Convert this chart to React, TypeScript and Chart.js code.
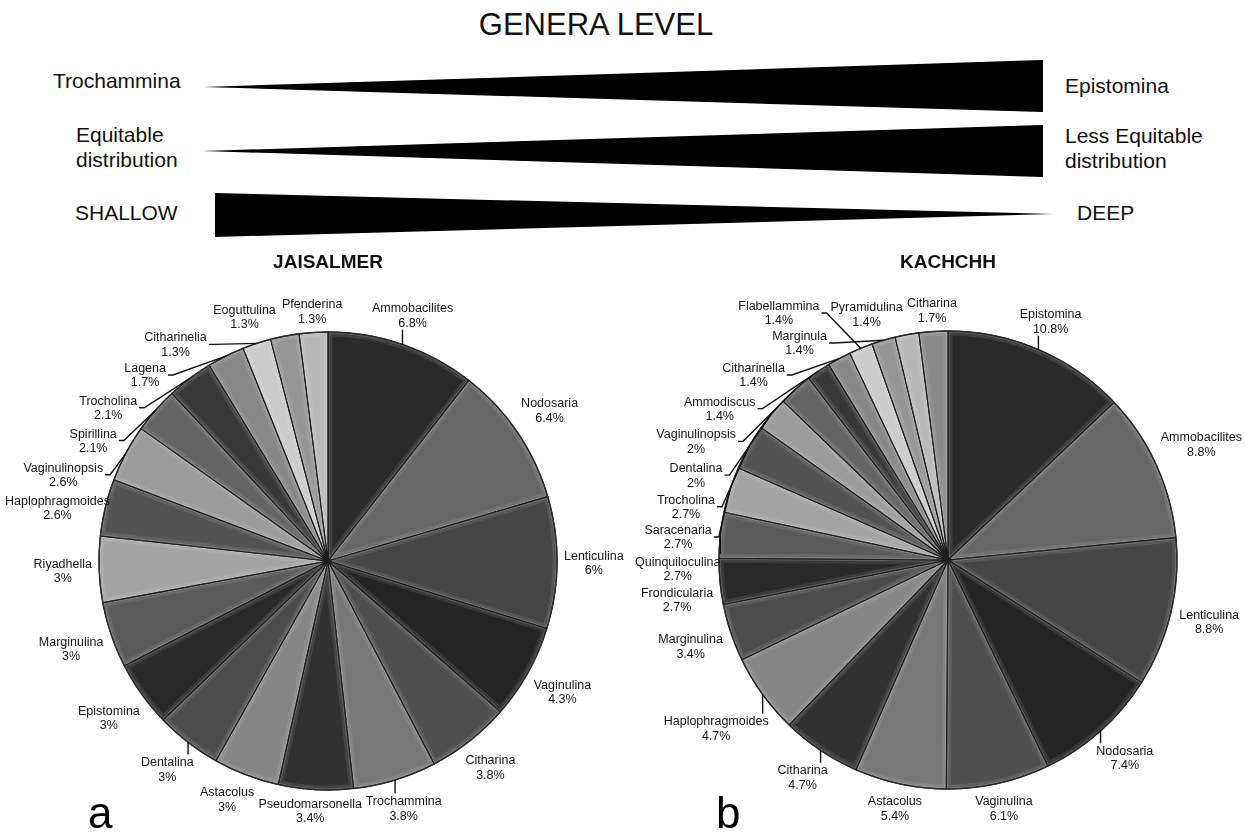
import React, { useEffect, useRef } from "react";
import { Chart, registerables } from "chart.js";

Chart.register(...registerables);

// ---------- data ----------
const JAISALMER_GENERA = [
  "Ammobacilites", "Nodosaria", "Lenticulina", "Vaginulina", "Citharina",
  "Trochammina", "Pseudomarsonella", "Astacolus", "Dentalina", "Epistomina",
  "Marginulina", "Riyadhella", "Haplophragmoides", "Vaginulinopsis", "Spirillina",
  "Trocholina", "Lagena", "Citharinelia", "Eoguttulina", "Pfenderina",
];
const JAISALMER_PERCENT = [
  6.8, 6.4, 6, 4.3, 3.8,
  3.8, 3.4, 3, 3, 3,
  3, 3, 2.6, 2.6, 2.1,
  2.1, 1.7, 1.3, 1.3, 1.3,
];

const KACHCHH_GENERA = [
  "Epistomina", "Ammobacilites", "Lenticulina", "Nodosaria", "Vaginulina",
  "Astacolus", "Citharina", "Haplophragmoides", "Marginulina", "Frondicularia",
  "Quinquiloculina", "Saracenaria", "Trocholina", "Dentalina", "Vaginulinopsis",
  "Ammodiscus", "Citharinella", "Flabellammina", "Marginula", "Pyramidulina",
  "Citharina",
];
const KACHCHH_PERCENT = [
  10.8, 8.8, 8.8, 7.4, 6.1,
  5.4, 4.7, 4.7, 3.4, 2.7,
  2.7, 2.7, 2.7, 2, 2,
  1.4, 1.4, 1.4, 1.4, 1.4,
  1.7,
];

const SLICE_GRAYS = [
  "#2a2a2a", "#666666", "#454545", "#242424", "#4f4f4f",
  "#787878", "#313131", "#868686", "#4c4c4c", "#292929",
  "#5a5a5a", "#a4a4a4", "#525252", "#9c9c9c", "#636363",
  "#383838", "#888888", "#cbcbcb", "#969696", "#b8b8b8",
  "#8a8a8a",
];

const HEADER_TITLE = "GENERA LEVEL";
const GRADIENT_ROWS = [
  { left: ["Trochammina"], right: ["Epistomina"], widening: true },
  { left: ["Equitable", "distribution"], right: ["Less Equitable", "distribution"], widening: true },
  { left: ["SHALLOW"], right: ["DEEP"], widening: false },
];

const W = 1245;
const H = 834;
const LABEL_FONT = '12.5px "Liberation Sans", Arial, Helvetica, sans-serif';
const LINE_H = 14.5;
const DEG = Math.PI / 180;

type Box = { x: number; y: number; w: number; h: number };

function overlaps(a: Box, b: Box, pad: number) {
  return !(a.x + a.w + pad <= b.x || b.x + b.w + pad <= a.x || a.y + a.h + pad <= b.y || b.y + b.h + pad <= a.y);
}

function nearestPoint(b: Box, px: number, py: number) {
  return {
    x: Math.min(Math.max(px, b.x), b.x + b.w),
    y: Math.min(Math.max(py, b.y), b.y + b.h),
  };
}

const pieDecor = {
  id: "pieDecor",
  afterDatasetsDraw(chart: any, _args: any, opts: any) {
    const ctx: CanvasRenderingContext2D = chart.ctx;
    const meta = chart.getDatasetMeta(0);
    const arcs = meta.data as any[];
    if (!arcs.length) return;
    const p0 = arcs[0].getProps(["x", "y", "outerRadius"], true);
    const cx = p0.x, cy = p0.y, R = p0.outerRadius;

    // bevel-like highlights on each slice
    arcs.forEach((arc) => {
      const p = arc.getProps(["x", "y", "startAngle", "endAngle", "outerRadius"], true);
      const path = () => {
        ctx.beginPath();
        ctx.moveTo(p.x, p.y);
        ctx.arc(p.x, p.y, p.outerRadius, p.startAngle, p.endAngle);
        ctx.closePath();
      };
      ctx.save();
      path();
      ctx.clip();
      ctx.lineJoin = "round";
      ctx.strokeStyle = "rgba(255,255,255,0.09)";
      ctx.lineWidth = 9;
      ctx.stroke();
      ctx.strokeStyle = "rgba(255,255,255,0.16)";
      ctx.lineWidth = 3.5;
      ctx.stroke();
      ctx.restore();
      ctx.save();
      path();
      ctx.strokeStyle = "#1e1e1e";
      ctx.lineWidth = 1.1;
      ctx.stroke();
      ctx.restore();
    });

    // outer rim
    ctx.save();
    ctx.beginPath();
    ctx.arc(cx, cy, R, 0, Math.PI * 2);
    ctx.strokeStyle = "#2a2a2a";
    ctx.lineWidth = 1.4;
    ctx.stroke();
    ctx.restore();

    // title
    ctx.save();
    ctx.font = 'bold 19px "Liberation Sans", Arial, Helvetica, sans-serif';
    ctx.fillStyle = "#111";
    ctx.textAlign = "center";
    ctx.textBaseline = "middle";
    ctx.fillText(opts.title, cx, opts.titleY);
    ctx.restore();

    // panel letter
    ctx.save();
    ctx.font = '44px "Liberation Sans", Arial, Helvetica, sans-serif';
    ctx.fillStyle = "#000";
    ctx.textAlign = "left";
    ctx.textBaseline = "alphabetic";
    ctx.fillText(opts.letter, opts.letterX, opts.letterY);
    ctx.restore();

    // labels
    const labels: string[] = chart.data.labels;
    const values: number[] = chart.data.datasets[0].data;
    ctx.save();
    ctx.font = LABEL_FONT;
    const items = arcs.map((arc, i) => {
      const p = arc.getProps(["startAngle", "endAngle"], true);
      const l1 = labels[i];
      const l2 = `${values[i]}%`;
      const w = Math.max(ctx.measureText(l1).width, ctx.measureText(l2).width) + 2;
      const mid = (p.startAngle + p.endAngle) / 2;
      let cw = (mid / DEG + 90) % 360;
      if (cw < 0) cw += 360;
      return { i, mid, cw, w, h: LINE_H * 2, l1, l2, v: values[i], box: null as Box | null };
    });

    const bounds = opts.bounds;
    const gap = 6;
    const boxAt = (cwDeg: number, g: number, w: number, h: number): Box => {
      const ang = cwDeg * DEG - Math.PI / 2;
      const c = Math.cos(ang), s = Math.sin(ang);
      let b: Box = { x: cx + (R + 100) * c - w / 2, y: cy + (R + 100) * s - h / 2, w, h };
      for (let t = R * 0.6; t < R + 220; t += 0.5) {
        const q = { x: cx + t * c - w / 2, y: cy + t * s - h / 2, w, h };
        const n = nearestPoint(q, cx, cy);
        if (Math.hypot(n.x - cx, n.y - cy) >= R + g) { b = q; break; }
      }
      b.x = Math.min(Math.max(b.x, bounds.left), bounds.right - w);
      b.y = Math.min(Math.max(b.y, bounds.top), bounds.bottom - h);
      return b;
    };

    const cands: { e: number; k: number; cost: number }[] = [];
    for (let e = 0; e <= 90; e += 3) {
      for (let k = 0; k <= 40; k++) {
        cands.push({ e, k, cost: e * 0.1 + k * 0.3 });
      }
    }
    cands.sort((a, b) => a.cost - b.cost);

    const placed: Box[] = [opts.titleBox];
    // spread labels of one quadrant away from the vertical axis; lo/hi bound the allowed angle
    const runGroup = (list: typeof items, dir: number, lo: number, hi: number) => {
      let prev = dir > 0 ? -Infinity : Infinity;
      for (const it of list) {
        let chosen: Box | null = null;
        let chosenCw = it.cw;
        for (let pass = 0; pass < 2 && !chosen; pass++) {
          for (const c of cands) {
            const ks = pass === 0 ? [c.k] : [c.k, -c.k];
            for (const kk of ks) {
              const cwc = it.cw + dir * kk;
              if (pass === 0) {
                if (dir > 0 && cwc < prev - 0.5) continue;
                if (dir < 0 && cwc > prev + 0.5) continue;
                if (cwc < lo || cwc > hi) continue;
              }
              const b = boxAt(cwc, gap + c.e, it.w, it.h);
              if (placed.some((q) => overlaps(q, b, 1))) continue;
              chosen = b;
              chosenCw = cwc;
              break;
            }
            if (chosen) break;
          }
        }
        if (!chosen) chosen = boxAt(it.cw, gap, it.w, it.h);
        prev = chosenCw;
        it.box = chosen;
        placed.push(chosen);
      }
      return prev;
    };
    const BR = items.filter((it) => it.cw >= 90 && it.cw < 180).sort((a, b) => b.cw - a.cw);
    const BL = items.filter((it) => it.cw >= 180 && it.cw < 270).sort((a, b) => a.cw - b.cw);
    const TR = items.filter((it) => it.cw < 90).sort((a, b) => a.cw - b.cw);
    const TL = items.filter((it) => it.cw >= 270).sort((a, b) => b.cw - a.cw);
    const brLast = BR.length ? runGroup(BR, -1, -360, 720) : 180;
    const tlLast = TL.length ? runGroup(TL, -1, -360, 720) : 360;
    runGroup(TR, 1, -360, brLast - 1);
    runGroup(BL, 1, -360, tlLast - 1);

    // leader lines
    ctx.strokeStyle = "#111";
    ctx.lineWidth = 1.4;
    for (const it of items) {
      const b = it.box as Box;
      const ax = cx + R * Math.cos(it.mid);
      const ay = cy + R * Math.sin(it.mid);
      const n = nearestPoint(b, ax, ay);
      if (Math.hypot(n.x - ax, n.y - ay) <= gap + 6) continue;
      ctx.beginPath();
      ctx.moveTo(ax, ay);
      const midY = b.y + b.h / 2;
      if (ax > b.x + b.w) {
        ctx.lineTo(b.x + b.w + 6, midY);
        ctx.lineTo(b.x + b.w + 1, midY);
      } else if (ax < b.x) {
        ctx.lineTo(b.x - 6, midY);
        ctx.lineTo(b.x - 1, midY);
      } else {
        ctx.lineTo(n.x, n.y);
      }
      ctx.stroke();
    }

    // label text
    ctx.fillStyle = "#141414";
    ctx.textAlign = "center";
    ctx.textBaseline = "alphabetic";
    for (const it of items) {
      const b = it.box as Box;
      const mx = b.x + b.w / 2;
      ctx.fillText(it.l1, mx, b.y + 11.5);
      ctx.fillText(it.l2, mx, b.y + 11.5 + LINE_H);
    }
    ctx.restore();
  },
};

function PieChart(props: {
  genera: string[];
  values: number[];
  title: string;
  letter: string;
  padding: { left: number; right: number; top: number; bottom: number };
  titleY: number;
  titleBox: Box;
  letterX: number;
  letterY: number;
  bounds: { left: number; right: number; top: number; bottom: number };
}) {
  const ref = useRef<HTMLCanvasElement | null>(null);
  useEffect(() => {
    if (!ref.current) return;
    const chart = new Chart(ref.current, {
      type: "pie",
      data: {
        labels: props.genera,
        datasets: [
          {
            data: props.values,
            backgroundColor: SLICE_GRAYS.slice(0, props.values.length),
            borderWidth: 0,
            radius: 229,
          } as any,
        ],
      },
      options: {
        responsive: false,
        animation: false,
        events: [],
        layout: { padding: props.padding },
        plugins: {
          legend: { display: false },
          tooltip: { enabled: false },
          pieDecor: {
            title: props.title,
            titleY: props.titleY,
            titleBox: props.titleBox,
            letter: props.letter,
            letterX: props.letterX,
            letterY: props.letterY,
            bounds: props.bounds,
          },
        } as any,
      },
      plugins: [pieDecor as any],
    });
    return () => chart.destroy();
  }, []);
  return (
    <canvas
      ref={ref}
      width={W}
      height={H}
      style={{ position: "absolute", left: 0, top: 0, width: W, height: H }}
    />
  );
}

function Header() {
  const font = '"Liberation Sans", Arial, Helvetica, sans-serif';
  const rows = [
    { tipY: 87, y0: 60, y1: 112, leftBase: [88], rightBase: [93] },
    { tipY: 151, y0: 125, y1: 177, leftBase: [142, 167], rightBase: [143, 168] },
    { tipY: 214, y0: 193, y1: 237, leftBase: [220], rightBase: [220] },
  ];
  const leftX = [53, 76, 75];
  const rightX = [1065, 1065, 1077];
  return (
    <svg width={W} height={250} style={{ position: "absolute", left: 0, top: 0 }}>
      <text x={596} y={35} textAnchor="middle" fontFamily={font} fontSize={31} fill="#111">
        {HEADER_TITLE}
      </text>
      {GRADIENT_ROWS.map((r, i) => {
        const g = rows[i];
        const pts = r.widening
          ? `203,${g.tipY} 1043,${g.y0} 1043,${g.y1}`
          : `215,${g.y0} 215,${g.y1} 1053,${g.tipY}`;
        return (
          <g key={i}>
            <polygon points={pts} fill="#000" />
            {r.left.map((t, j) => (
              <text key={"l" + j} x={leftX[i]} y={g.leftBase[j]} fontFamily={font} fontSize={21} fill="#111">
                {t}
              </text>
            ))}
            {r.right.map((t, j) => (
              <text key={"r" + j} x={rightX[i]} y={g.rightBase[j]} fontFamily={font} fontSize={21} fill="#111">
                {t}
              </text>
            ))}
          </g>
        );
      })}
    </svg>
  );
}

export default function App() {
  useEffect(() => {
    document.body.style.margin = "0";
    document.body.style.background = "#fff";
  }, []);
  return (
    <div style={{ position: "relative", width: W, height: H, background: "#fff", overflow: "hidden" }}>
      <Header />
      <PieChart
        genera={JAISALMER_GENERA}
        values={JAISALMER_PERCENT}
        title="JAISALMER"
        letter="a"
        padding={{ left: 0, right: W - 656, top: 300, bottom: H - 822 }}
        titleY={263}
        titleBox={{ x: 262, y: 251, w: 132, h: 24 }}
        letterX={88}
        letterY={828}
        bounds={{ left: 4, right: 638, top: 278, bottom: 834 }}
      />
      <PieChart
        genera={KACHCHH_GENERA}
        values={KACHCHH_PERCENT}
        title="KACHCHH"
        letter="b"
        padding={{ left: 651, right: 0, top: 300, bottom: H - 820 }}
        titleY={263}
        titleBox={{ x: 895, y: 251, w: 106, h: 24 }}
        letterX={716}
        letterY={828}
        bounds={{ left: 634, right: 1243, top: 278, bottom: 834 }}
      />
    </div>
  );
}
